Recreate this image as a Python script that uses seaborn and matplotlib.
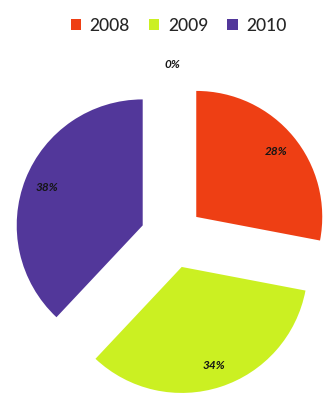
import matplotlib
matplotlib.use("Agg")
import matplotlib.pyplot as plt
import seaborn as sns
from matplotlib.patches import Patch

# data
categories = ["2008", "2009", "2010", ""]
values = [28, 34, 38, 0]
colors_hex = ["#EE3F14", "#CBF022", "#52379A", "#FFFFFF"]
explode_amt = [0.25, 0.25, 0.25, 0.55]

sns.set_theme(style="white")
plt.rcParams["font.family"] = ["Lato", "DejaVu Sans"]

palette = sns.color_palette(colors_hex)

fig = plt.figure(figsize=(3.25, 4.01), dpi=100)
ax = fig.add_axes([-0.0523, -0.0623, 1.163, 0.9426])

wedges, texts, autotexts = ax.pie(
    values,
    colors=palette,
    explode=explode_amt,
    startangle=90,
    counterclock=False,
    autopct=lambda p: f"{p:.0f}%",
    pctdistance=0.82,
    radius=1.0,
    wedgeprops=dict(linewidth=0),
    textprops=dict(fontsize=8.5, fontweight="bold", fontstyle="italic", color="#151515"),
)

ax.set_xlim(-1.5, 1.5)
ax.set_ylim(-1.5, 1.5)
ax.set_aspect("equal")
ax.axis("off")

handles = [Patch(facecolor=palette[i], edgecolor="none", label=categories[i]) for i in range(3)]
fig.legend(handles=handles, loc="upper center", bbox_to_anchor=(0.55, 0.995), ncol=3,
           frameon=False, handlelength=0.6, handleheight=0.6, columnspacing=1.1,
           handletextpad=0.5, prop=dict(size=12.5, weight="medium"))

fig.savefig("out.png", dpi=100)
